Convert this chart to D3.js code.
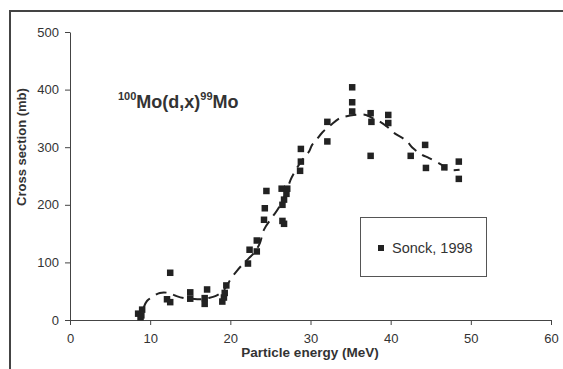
<!DOCTYPE html>
<html><head><meta charset="utf-8">
<script src="https://cdn.jsdelivr.net/npm/d3@7"></script>
<style>
body{margin:0;background:#fff;}
svg{display:block;}
text{font-family:"Liberation Sans",Arial,sans-serif;}
</style></head>
<body>
<svg id="c" width="563" height="369"></svg>
<script>
const xTicks=[0,10,20,30,40,50,60];
const yTicks=[0,100,200,300,400,500];
const sonckE=[8.5,8.8,8.9,9.0,12.1,12.5,12.5,15.0,15.0,16.8,16.8,17.1,19.0,19.2,19.3,19.5,22.2,22.4,23.3,23.3,24.2,24.3,24.5,26.4,26.5,26.5,26.7,26.7,27.0,27.1,28.7,28.8,28.8,32.1,32.1,35.2,35.2,35.2,37.5,37.6,37.5,39.7,39.7,42.5,44.3,44.4,46.7,48.5,48.5];
const sonckXS=[11,5,8,18,36,31,82,48,37,38,28,53,32,39,47,60,98,122,119,138,174,194,224,228,200,172,167,209,219,228,259,275,297,310,344,404,378,362,359,344,285,356,342,285,304,264,265,275,245];
const fitE=[9.2,9.6,10.5,11.2,12.3,13.2,14.2,15.2,16.2,17.2,18.2,19.2,20.0,20.8,21.7,22.6,23.1,23.7,24.2,25.3,26.0,27.1,27.5,28.4,29.3,29.8,30.2,30.7,31.5,32.5,33.6,34.3,35.4,36.9,37.8,38.7,39.6,40.5,41.9,42.8,43.9,44.8,46.4,47.0,48.6];
const fitXS=[22,33,42,47,47,42,38,37,36,38,42,52,70,85,99,111,119,134,157,180,194,226,243,266,284,292,304,312,326,338,350,353,356,356,350,344,335,324,312,298,287,281,269,261,261];

const svg=d3.select("#c");
const L=70,R=551,T=32,B=320;
const x=d3.scaleLinear().domain([0,60]).range([L,R]);
const y=d3.scaleLinear().domain([0,500]).range([B,T]);

// outer frame
svg.append("path").attr("d","M10,369 V11 H563").attr("fill","none").attr("stroke","#444").attr("stroke-width",2);

const ax=svg.append("g").attr("transform",`translate(0,${B})`)
  .call(d3.axisBottom(x).tickValues(xTicks).tickSize(5).tickPadding(9).tickSizeOuter(0));
const ay=svg.append("g").attr("transform",`translate(${L},0)`)
  .call(d3.axisLeft(y).tickValues(yTicks).tickSize(5).tickPadding(6).tickSizeOuter(0));
[ax,ay].forEach(g=>{
  g.select(".domain").attr("stroke","#444");
  g.selectAll(".tick line").attr("stroke","#444");
  g.selectAll(".tick text").attr("fill","#333").style("font-size","13px");
});

// fitted dashed line
const line=d3.line().x(d=>x(d[0])).y(d=>y(d[1])).curve(d3.curveCatmullRom);
svg.append("path").datum(fitE.map((e,i)=>[e,fitXS[i]]))
  .attr("d",line).attr("fill","none").attr("stroke","#222").attr("stroke-width",2)
  .attr("stroke-dasharray","11,7");

// points
const s=6.5;
svg.append("g").selectAll("rect").data(sonckE.map((e,i)=>[e,sonckXS[i]])).join("rect")
  .attr("x",d=>x(d[0])-s/2).attr("y",d=>y(d[1])-s/2).attr("width",s).attr("height",s)
  .attr("fill","#222");

// axis titles
svg.append("text").attr("x",310).attr("y",357).attr("text-anchor","middle")
  .style("font-size","13.5px").style("font-weight","bold").attr("fill","#333").text("Particle energy (MeV)");
svg.append("text").attr("transform","translate(26,147) rotate(-90)").attr("text-anchor","middle")
  .style("font-size","13px").style("font-weight","bold").attr("fill","#333").text("Cross section (mb)");

// reaction title
const t=svg.append("text").attr("x",118).attr("y",108).style("font-weight","bold").attr("fill","#333");
t.append("tspan").attr("dy",-8).style("font-size","11px").text("100");
t.append("tspan").attr("dy",8).style("font-size","18px").text("Mo(d,x)");
t.append("tspan").attr("dy",-8).style("font-size","11px").text("99");
t.append("tspan").attr("dy",8).style("font-size","18px").text("Mo");

// legend
svg.append("rect").attr("x",360.5).attr("y",217.5).attr("width",126).attr("height",59)
  .attr("fill","#fff").attr("stroke","#555").attr("stroke-width",1);
svg.append("rect").attr("x",378).attr("y",245).attr("width",6).attr("height",6).attr("fill","#222");
svg.append("text").attr("x",392).attr("y",253).style("font-size","14.5px").attr("fill","#333").text("Sonck, 1998");
</script>
</body></html>
